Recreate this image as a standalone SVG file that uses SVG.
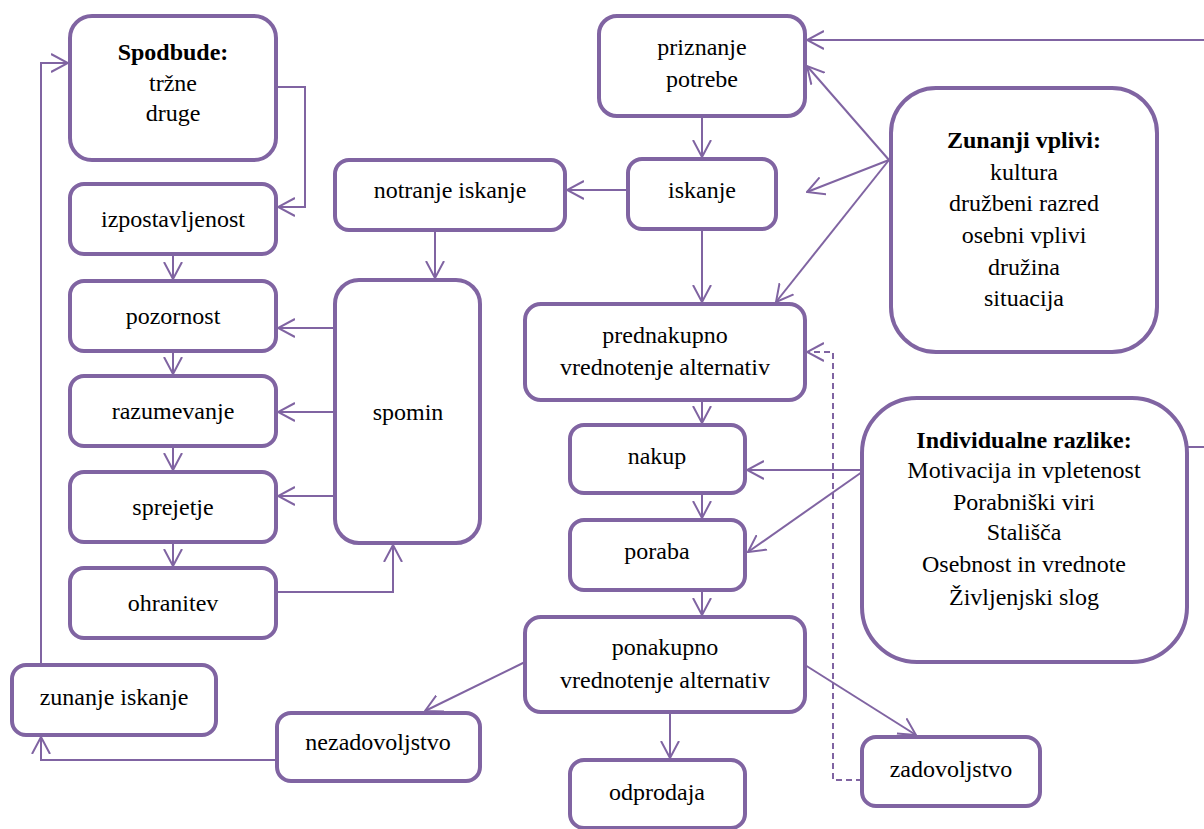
<svg xmlns="http://www.w3.org/2000/svg" width="1204" height="829" viewBox="0 0 1204 829">
<style>
.box{fill:#fff;stroke:#8064A2;stroke-width:4}
.ln{fill:none;stroke:#8064A2;stroke-width:2}
.dash{stroke-dasharray:6 4}
text{font-family:'Liberation Serif','Times New Roman',serif;font-size:24px;fill:#000;text-anchor:middle}
.b{font-weight:bold}
</style>
<defs>
<marker id="ah" viewBox="0 0 18 20" refX="17" refY="10" markerWidth="18" markerHeight="20" markerUnits="userSpaceOnUse" orient="auto">
<path d="M0,1 L17,10 L0,19" fill="none" stroke="#8064A2" stroke-width="2"/>
</marker>
</defs>
<rect width="1204" height="829" fill="#fff"/>
<g id="connectors">
<path class="ln" d="M276,87 H305 V207 H278" marker-end="url(#ah)"/>
<path class="ln" d="M173,254 V279" marker-end="url(#ah)"/>
<path class="ln" d="M173,351 V374" marker-end="url(#ah)"/>
<path class="ln" d="M173,446 V470" marker-end="url(#ah)"/>
<path class="ln" d="M173,542 V566" marker-end="url(#ah)"/>
<path class="ln" d="M276,592 H393 V545" marker-end="url(#ah)"/>
<path class="ln" d="M335,328 H278" marker-end="url(#ah)"/>
<path class="ln" d="M335,412 H278" marker-end="url(#ah)"/>
<path class="ln" d="M335,496 H278" marker-end="url(#ah)"/>
<path class="ln" d="M435,230 V278" marker-end="url(#ah)"/>
<path class="ln" d="M628,190 H567" marker-end="url(#ah)"/>
<path class="ln" d="M702,116 V157" marker-end="url(#ah)"/>
<path class="ln" d="M702,229 V302" marker-end="url(#ah)"/>
<path class="ln" d="M1204,40 H807" marker-end="url(#ah)"/>
<path class="ln" d="M889,160 L807,66" marker-end="url(#ah)"/>
<path class="ln" d="M889,160 L807,192" marker-end="url(#ah)"/>
<path class="ln" d="M889,160 L776,302" marker-end="url(#ah)"/>
<path class="ln" d="M702,400 V423" marker-end="url(#ah)"/>
<path class="ln" d="M702,493 V518" marker-end="url(#ah)"/>
<path class="ln" d="M862,470 H747" marker-end="url(#ah)"/>
<path class="ln" d="M862,472 L748,552" marker-end="url(#ah)"/>
<path class="ln" d="M702,590 V615" marker-end="url(#ah)"/>
<path class="ln" d="M670,712 V758" marker-end="url(#ah)"/>
<path class="ln" d="M525,662 L425,711" marker-end="url(#ah)"/>
<path class="ln" d="M805,665 L916,735" marker-end="url(#ah)"/>
<path class="ln dash" d="M862,780 H833 V352 H807" marker-end="url(#ah)"/>
<path class="ln" d="M41,665 V63 H68" marker-end="url(#ah)"/>
<path class="ln" d="M277,760 H41 V737" marker-end="url(#ah)"/>
<path class="ln" d="M1187,447 H1204"/>
</g>
<g id="spodbude"><rect class="box" x="70" y="16" width="206" height="144" rx="22"/><text class="b" x="173" y="60">Spodbude:</text><text x="173" y="91">tržne</text><text x="173" y="121">druge</text></g>
<g id="izpostavljenost"><rect class="box" x="70" y="184" width="206" height="70" rx="14"/><text x="173" y="227">izpostavljenost</text></g>
<g id="pozornost"><rect class="box" x="70" y="281" width="206" height="70" rx="14"/><text x="173" y="324">pozornost</text></g>
<g id="razumevanje"><rect class="box" x="70" y="376" width="206" height="70" rx="14"/><text x="173" y="419">razumevanje</text></g>
<g id="sprejetje"><rect class="box" x="70" y="472" width="206" height="70" rx="14"/><text x="173" y="515">sprejetje</text></g>
<g id="ohranitev"><rect class="box" x="70" y="568" width="206" height="70" rx="14"/><text x="173" y="611">ohranitev</text></g>
<g id="zunanje-iskanje"><rect class="box" x="12" y="665" width="204" height="70" rx="14"/><text x="114" y="705">zunanje iskanje</text></g>
<g id="nezadovoljstvo"><rect class="box" x="277" y="713" width="203" height="68" rx="14"/><text x="378" y="750">nezadovoljstvo</text></g>
<g id="notranje-iskanje"><rect class="box" x="335" y="160" width="230" height="70" rx="14"/><text x="450" y="198">notranje iskanje</text></g>
<g id="spomin"><rect class="box" x="335" y="280" width="145" height="263" rx="24"/><text x="408" y="420">spomin</text></g>
<g id="priznanje-potrebe"><rect class="box" x="599" y="16" width="206" height="100" rx="18"/><text x="702" y="55">priznanje</text><text x="702" y="87">potrebe</text></g>
<g id="iskanje"><rect class="box" x="628" y="159" width="148" height="70" rx="14"/><text x="702" y="198">iskanje</text></g>
<g id="prednakupno"><rect class="box" x="525" y="304" width="280" height="96" rx="16"/><text x="665" y="343">prednakupno</text><text x="665" y="375">vrednotenje alternativ</text></g>
<g id="nakup"><rect class="box" x="570" y="425" width="175" height="68" rx="14"/><text x="657" y="464">nakup</text></g>
<g id="poraba"><rect class="box" x="570" y="520" width="175" height="70" rx="14"/><text x="657" y="559">poraba</text></g>
<g id="ponakupno"><rect class="box" x="525" y="617" width="280" height="95" rx="16"/><text x="665" y="655">ponakupno</text><text x="665" y="688">vrednotenje alternativ</text></g>
<g id="odprodaja"><rect class="box" x="570" y="760" width="175" height="68" rx="14"/><text x="657" y="800">odprodaja</text></g>
<g id="zadovoljstvo"><rect class="box" x="862" y="737" width="178" height="69" rx="14"/><text x="951" y="777">zadovoljstvo</text></g>
<g id="zunanji-vplivi"><rect class="box" x="891" y="88" width="266" height="264" rx="45"/><text class="b" x="1024" y="148">Zunanji vplivi:</text><text x="1024" y="180">kultura</text><text x="1024" y="211">družbeni razred</text><text x="1024" y="243">osebni vplivi</text><text x="1024" y="275">družina</text><text x="1024" y="306">situacija</text></g>
<g id="individualne-razlike"><rect class="box" x="862" y="398" width="325" height="264" rx="55"/><text class="b" x="1024" y="448">Individualne razlike:</text><text x="1024" y="478">Motivacija in vpletenost</text><text x="1024" y="510">Porabniški viri</text><text x="1024" y="540">Stališča</text><text x="1024" y="572">Osebnost in vrednote</text><text x="1024" y="605">Življenjski slog</text></g>
</svg>
